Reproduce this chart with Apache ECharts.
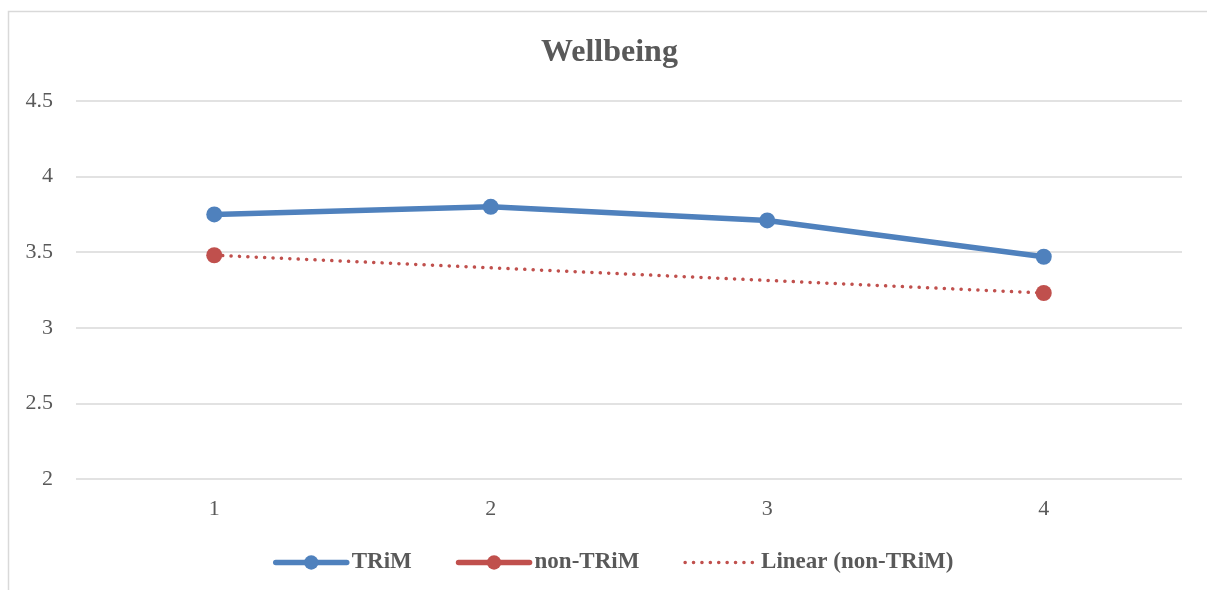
<!DOCTYPE html>
<html>
<head>
<meta charset="utf-8">
<script src="https://cdn.jsdelivr.net/npm/echarts@6/dist/echarts.min.js"></script>
<style>
  html, body { margin: 0; padding: 0; background: #fff; }
  #chart { width: 1207px; height: 590px; }
</style>
</head>
<body>
<div id="chart"></div>
<script>
// Survey rounds and mean wellbeing scores
const categories = ['1', '2', '3', '4'];
const trimValues = [3.75, 3.80, 3.71, 3.47];
const nonTrimValues = [3.48, null, null, 3.23];
const yTicks = { min: 2, max: 4.5, interval: 0.5 };

// Least-squares fit over the non-TRiM points that have values
function linearTrend(values) {
  const pts = values.map((v, i) => [i + 1, v]).filter(p => p[1] != null);
  const n = pts.length;
  const sx = pts.reduce((a, p) => a + p[0], 0);
  const sy = pts.reduce((a, p) => a + p[1], 0);
  const sxx = pts.reduce((a, p) => a + p[0] * p[0], 0);
  const sxy = pts.reduce((a, p) => a + p[0] * p[1], 0);
  const slope = (n * sxy - sx * sy) / (n * sxx - sx * sx);
  const icpt = (sy - slope * sx) / n;
  return values.map((_, i) => +(icpt + slope * (i + 1)).toFixed(4));
}
const trendValues = linearTrend(nonTrimValues);

const serif = '"Liberation Serif", "Times New Roman", serif';
const textColor = '#595959';
const blue = '#4f81bd';
const red = '#c0504d';
const trendDash = { color: red, width: 3.5, type: [0.1, 8.3], cap: 'round' };

const chart = echarts.init(document.getElementById('chart'), null, { renderer: 'canvas' });
chart.setOption({
  animation: false,
  backgroundColor: '#ffffff',
  graphic: [{
    type: 'rect',
    shape: { x: 8.5, y: 11.5, width: 1300, height: 700 },
    style: { fill: 'none', stroke: '#d9d9d9', lineWidth: 1.5 },
    silent: true,
    z: -1
  }],
  title: {
    text: 'Wellbeing',
    left: 536,
    top: 32,
    textStyle: { fontFamily: serif, fontSize: 32, fontWeight: 'bold', color: textColor }
  },
  grid: { left: 76, right: 25, top: 101, bottom: 111, containLabel: false },
  xAxis: {
    type: 'category',
    data: categories,
    boundaryGap: true,
    axisLine: { show: false },
    axisTick: { show: false },
    axisLabel: { fontFamily: serif, fontSize: 22, color: textColor, margin: 19 }
  },
  yAxis: {
    type: 'value',
    min: yTicks.min,
    max: yTicks.max,
    interval: yTicks.interval,
    axisLine: { show: false },
    axisTick: { show: false },
    splitLine: { lineStyle: { color: '#d9d9d9', width: 1.5 } },
    axisLabel: { fontFamily: serif, fontSize: 22, color: textColor, margin: 23 }
  },
  legend: {
    bottom: 11,
    left: 268,
    itemGap: 44,
    itemWidth: 71,
    itemHeight: 18,
    textStyle: { fontFamily: serif, fontSize: 23, fontWeight: 'bold', color: textColor, padding: [0, 0, 0, 0] },
    data: [
      { name: 'TRiM', lineStyle: { width: 5.5, cap: 'round' } },
      { name: 'non-TRiM', lineStyle: { width: 5.5, cap: 'round' } },
      { name: 'Linear (non-TRiM)', lineStyle: trendDash, itemStyle: { opacity: 0 } }
    ]
  },
  series: [
    {
      name: 'TRiM',
      type: 'line',
      data: trimValues,
      symbol: 'circle',
      symbolSize: 16,
      lineStyle: { color: blue, width: 5.5 },
      itemStyle: { color: blue },
      z: 3
    },
    {
      name: 'non-TRiM',
      type: 'line',
      data: nonTrimValues,
      connectNulls: false,
      symbol: 'circle',
      symbolSize: 16,
      lineStyle: { color: red, width: 5.5 },
      itemStyle: { color: red },
      z: 4
    },
    {
      name: 'Linear (non-TRiM)',
      type: 'line',
      data: trendValues,
      symbol: 'none',
      lineStyle: trendDash,
      itemStyle: { color: red },
      z: 2
    }
  ]
});
</script>
</body>
</html>
